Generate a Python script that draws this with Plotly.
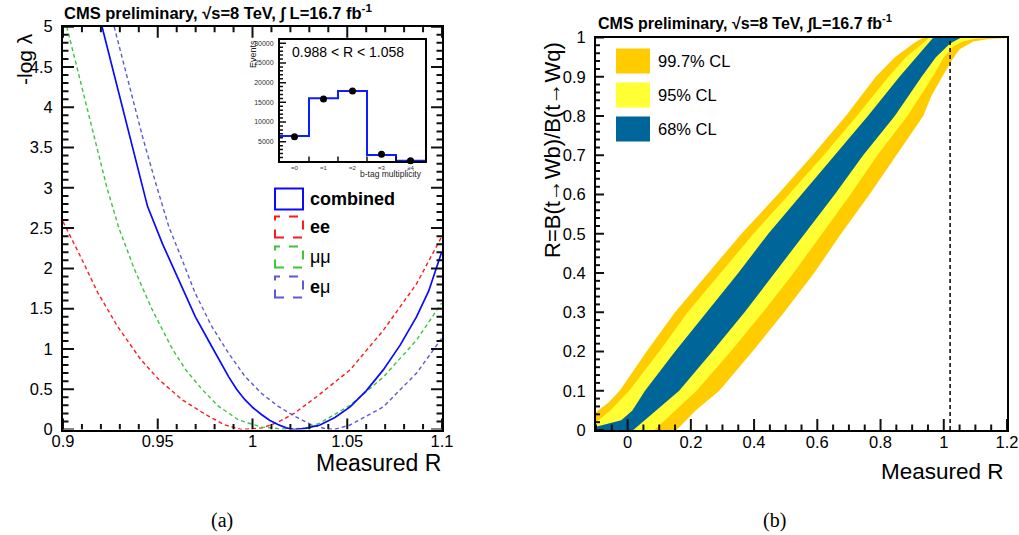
import plotly.graph_objects as go

W, H = 1019, 535

# ---------------- panel (a): -log(lambda) scans vs measured R ----------------
comb_x = [0.9206, 0.9312, 0.9418, 0.9446, 0.9524, 0.9611, 0.9698, 0.9785, 0.9873, 0.9916, 0.996,
          1.0003, 1.0047, 1.009, 1.0134, 1.0178, 1.022, 1.028, 1.0356, 1.0435, 1.0515, 1.060,
          1.069, 1.078, 1.0866, 1.093, 1.0998]
comb_y = [5.0, 4.0, 3.0, 2.77, 2.31, 1.86, 1.40, 1.03, 0.66, 0.50, 0.37,
          0.27, 0.186, 0.116, 0.062, 0.02, 0.0, 0.015, 0.056, 0.15, 0.28, 0.48,
          0.74, 1.05, 1.40, 1.72, 2.2]

ee_x = [0.9, 0.9096, 0.9183, 0.9288, 0.941, 0.9506, 0.9628, 0.975, 0.985, 0.994,
        1.005, 1.013, 1.022, 1.034, 1.0515, 1.069, 1.0866, 1.1]
ee_y = [2.58, 2.13, 1.70, 1.28, 0.87, 0.62, 0.37, 0.19, 0.06, 0.0,
        0.02, 0.085, 0.2, 0.41, 0.74, 1.23, 1.81, 2.4]

mm_x = [0.902, 0.9125, 0.9232, 0.9295, 0.9375, 0.9468, 0.9577, 0.9648, 0.9733, 0.982, 0.9925,
        1.0047, 1.0187, 1.028, 1.0356, 1.0515, 1.069, 1.0866, 1.0998]
mm_y = [5.0, 4.0, 3.0, 2.5, 2.0, 1.5, 1.0, 0.74, 0.5, 0.29, 0.12,
        0.03, 0.0, 0.02, 0.08, 0.30, 0.65, 1.11, 1.57]

em_x = [0.927, 0.9349, 0.9419, 0.9489, 0.9558, 0.9628, 0.9698, 0.9785, 0.9873, 0.996, 1.0047,
        1.0134, 1.0222, 1.0309, 1.038, 1.043, 1.0515, 1.069, 1.0866, 1.0998]
em_y = [5.0, 4.26, 3.64, 3.06, 2.52, 2.11, 1.69, 1.28, 0.95, 0.66, 0.45,
        0.29, 0.165, 0.062, 0.012, 0.0, 0.056, 0.28, 0.70, 1.13]

# inset: b-tag multiplicity
btag_labels = ["=0", "=1", "=2", "=3", "\u22654"]
btag_centers = [0, 1, 2, 3, 4]
btag_edges = [-0.5, 0.5, 1.5, 2.5, 3.5, 4.5]
btag_expected = [6450, 16030, 17880, 1630, 180]
btag_data = [6270, 15850, 17880, 1800, 180]
inset_yticks = [5000, 10000, 15000, 20000, 25000, 30000]

# ---------------- panel (b): confidence belts ----------------
# belt edges as (measured R, true R) pairs, ordered by true R
cl997_lo_x = [-0.175, -0.1, -0.06, -0.025, 0.06, 0.15, 0.255, 0.36, 0.475, 0.585, 0.69, 0.785, 0.845, 0.904, 0.935]
cl997_lo_y = [0.0, 0.045, 0.07, 0.1, 0.2, 0.3, 0.4, 0.5, 0.6, 0.7, 0.8, 0.9, 0.95, 0.985, 1.0]
cl997_hi_x = [0.155, 0.215, 0.29, 0.395, 0.495, 0.59, 0.675, 0.765, 0.85, 0.935, 0.96, 0.995, 1.03, 1.05, 1.093, 1.146, 1.2]
cl997_hi_y = [0.0, 0.05, 0.1, 0.2, 0.3, 0.4, 0.5, 0.6, 0.7, 0.8, 0.85, 0.9, 0.947, 0.97, 0.99, 0.997, 0.999]

cl95_lo_x = [-0.13, -0.1, -0.055, 0.005, 0.10, 0.19, 0.295, 0.398, 0.51, 0.62, 0.725, 0.825, 0.88, 0.946, 0.955]
cl95_lo_y = [0.0, 0.02, 0.05, 0.1, 0.2, 0.3, 0.4, 0.5, 0.6, 0.7, 0.8, 0.9, 0.95, 0.994, 1.0]
cl95_hi_x = [0.085, 0.15, 0.218, 0.326, 0.428, 0.525, 0.615, 0.705, 0.79, 0.885, 0.965, 1.0, 1.03, 1.06, 1.1, 1.2]
cl95_hi_y = [0.0, 0.05, 0.1, 0.2, 0.3, 0.4, 0.5, 0.6, 0.7, 0.8, 0.9, 0.95, 0.977, 0.99, 0.997, 1.0]

cl68_lo_x = [-0.12, -0.1, -0.02, 0.015, 0.055, 0.15, 0.25, 0.35, 0.445, 0.55, 0.655, 0.76, 0.86, 0.967]
cl68_lo_y = [0.0, 0.008, 0.025, 0.05, 0.1, 0.2, 0.3, 0.4, 0.5, 0.6, 0.7, 0.8, 0.9, 1.0]
cl68_hi_x = [0.018, 0.163, 0.268, 0.37, 0.465, 0.56, 0.655, 0.745, 0.845, 0.93, 0.975, 1.02, 1.05, 1.055]
cl68_hi_y = [0.0, 0.1, 0.2, 0.3, 0.4, 0.5, 0.6, 0.7, 0.8, 0.9, 0.95, 0.985, 0.998, 1.0]

measured_R = 1.02
true_R_span = [0.0, 1.0]

# ---------------- frame geometry (pixels) ----------------
FONT = "Liberation Sans, Arial, Helvetica, sans-serif"
SERIF = "Liberation Serif, Times New Roman, serif"

A_L, A_R, A_T, A_B = 63, 442, 26.7, 429.5        # panel (a) frame
B_L, B_R, B_T, B_B = 596, 1007, 37.5, 430         # panel (b) frame
I_L, I_R, I_T, I_B = 280, 425, 40, 161.4          # inset frame

A_XR, A_YR = [0.9, 1.1], [0, 5]
B_XR, B_YR = [-0.1, 1.2], [0, 1]
I_XR, I_YR = [-0.5, 4.5], [0, 30840]


def px(x):
    return x / W


def py(y):
    return 1 - y / H


def belt(lo_x, lo_y, hi_x, hi_y):
    return lo_x + hi_x[::-1], lo_y + hi_y[::-1]


def ticks_between(lo, hi, step):
    n = int(round((hi - lo) / step))
    return [round(lo + i * step, 6) for i in range(n + 1)]


fig = go.Figure()

# likelihood scans
curves = [
    (ee_x, ee_y, "#ff1a1a", "4px,3px", 1.4),
    (mm_x, mm_y, "#3fc43f", "4px,3px", 1.4),
    (em_x, em_y, "#5a5ad8", "4px,3px", 1.4),
    (comb_x, comb_y, "#0a0aff", "solid", 1.7),
]
for cx, cy, col, dash, lw in curves:
    fig.add_trace(go.Scatter(x=cx, y=cy, mode="lines", xaxis="x", yaxis="y",
                             line=dict(color=col, dash=dash, width=lw),
                             hoverinfo="skip", showlegend=False))

# belts, widest first
for lx, ly, hx, hy, col in [
    (cl997_lo_x, cl997_lo_y, cl997_hi_x, cl997_hi_y, "#ffcc00"),
    (cl95_lo_x, cl95_lo_y, cl95_hi_x, cl95_hi_y, "#ffff33"),
    (cl68_lo_x, cl68_lo_y, cl68_hi_x, cl68_hi_y, "#006699"),
]:
    bx, by = belt(lx, ly, hx, hy)
    fig.add_trace(go.Scatter(x=bx, y=by, mode="lines", fill="toself", fillcolor=col,
                             line=dict(width=0, color=col), xaxis="x2", yaxis="y2",
                             hoverinfo="skip", showlegend=False))

fig.add_trace(go.Scatter(x=[measured_R, measured_R], y=true_R_span, mode="lines",
                         line=dict(color="black", width=1.5, dash="4px,3px"),
                         xaxis="x2", yaxis="y2", hoverinfo="skip", showlegend=False))

# inset histogram
fig.add_trace(go.Scatter(x=btag_edges, y=btag_expected + [btag_expected[-1]], mode="lines",
                         line=dict(color="#0a1eff", width=2, shape="hv"),
                         xaxis="x3", yaxis="y3", hoverinfo="skip", showlegend=False))
fig.add_trace(go.Scatter(x=btag_centers, y=btag_data, mode="markers",
                         marker=dict(color="black", size=7),
                         xaxis="x3", yaxis="y3", hoverinfo="skip", showlegend=False, cliponaxis=False))


# ---------------- tick marks drawn inside each frame ----------------
def tick_trace(xa, ya, frame_px, xr, yr, xt, yt, width=2.0):
    """xt/yt: lists of (value, length_px, side) with side in {'bottom','top','left','right'}."""
    l, r, t, b = frame_px
    dx = (xr[1] - xr[0]) / (r - l)   # data units per pixel
    dy = (yr[1] - yr[0]) / (b - t)
    xs, ys = [], []
    for v, ln, side in xt:
        if side == "bottom":
            xs += [v, v, None]
            ys += [yr[0], yr[0] + ln * dy, None]
        else:
            xs += [v, v, None]
            ys += [yr[1], yr[1] - ln * dy, None]
    for v, ln, side in yt:
        if side == "left":
            xs += [xr[0], xr[0] + ln * dx, None]
            ys += [v, v, None]
        else:
            xs += [xr[1], xr[1] - ln * dx, None]
            ys += [v, v, None]
    return go.Scatter(x=xs, y=ys, mode="lines", xaxis=xa, yaxis=ya,
                      line=dict(color="#111111", width=width), hoverinfo="skip", showlegend=False)


a_xmaj = ticks_between(0.9, 1.1, 0.05)
a_xmin = [v for v in ticks_between(0.9, 1.1, 0.01) if v not in a_xmaj]
a_ymaj = ticks_between(0, 5, 0.5)
a_ymin = [v for v in ticks_between(0, 5, 0.1) if v not in a_ymaj]
a_xt = ([(v, 11, s) for v in a_xmaj for s in ("bottom", "top")]
        + [(v, 5.5, s) for v in a_xmin for s in ("bottom", "top")])
a_yt = ([(v, 11, s) for v in a_ymaj for s in ("left", "right")]
        + [(v, 5.5, s) for v in a_ymin for s in ("left", "right")])
fig.add_trace(tick_trace("x", "y", (A_L, A_R, A_T, A_B), A_XR, A_YR, a_xt, a_yt))

b_xmaj = ticks_between(0, 1.2, 0.2)
b_xmin = [v for v in ticks_between(-0.1, 1.2, 0.05) if v not in b_xmaj]
b_ymaj = ticks_between(0, 1, 0.1)
b_ymin = [v for v in ticks_between(0, 1, 0.02) if v not in b_ymaj]
b_xt = [(v, 11, "bottom") for v in b_xmaj] + [(v, 5.5, "bottom") for v in b_xmin]
b_yt = [(v, 8, "left") for v in b_ymaj] + [(v, 4, "left") for v in b_ymin]
fig.add_trace(tick_trace("x2", "y2", (B_L, B_R, B_T, B_B), B_XR, B_YR, b_xt, b_yt))

i_xt = [(v, 5, "bottom") for v in [0.5, 1.5, 2.5, 3.5]]
i_yt = ([(v, 6, "left") for v in inset_yticks]
        + [(v, 3, "left") for v in ticks_between(0, 30000, 1000) if v not in inset_yticks and v > 0])
fig.add_trace(tick_trace("x3", "y3", (I_L, I_R, I_T, I_B), I_XR, I_YR, i_xt, i_yt, width=1.5))

tickfont = dict(family=FONT, size=16.5, color="black")
frame = dict(showline=True, linecolor="black", linewidth=2, showgrid=False, zeroline=False,
             ticks="", ticklen=0, layer="above traces", automargin=False)

fig.update_layout(
    width=W, height=H, autosize=False,
    margin=dict(l=0, r=0, t=0, b=0, pad=0, autoexpand=False),
    paper_bgcolor="white", plot_bgcolor="white",
    showlegend=False,
    xaxis=dict(**frame, domain=[px(A_L), px(A_R)], range=A_XR, anchor="y", mirror=True,
               tickmode="linear", tick0=0.9, dtick=0.05, tickfont=tickfont, ticklabelstandoff=-4),
    yaxis=dict(**frame, domain=[py(A_B), py(A_T)], range=A_YR, anchor="x", mirror=True,
               tickmode="linear", tick0=0, dtick=0.5, tickfont=tickfont, ticklabelstandoff=5),
    xaxis2=dict(**frame, domain=[px(B_L), px(B_R)], range=B_XR, anchor="y2", mirror=True,
                tickmode="linear", tick0=0, dtick=0.2, tickfont=tickfont, ticklabelstandoff=-4),
    yaxis2=dict(**frame, domain=[py(B_B), py(B_T)], range=B_YR, anchor="x2", mirror=True,
                tickmode="linear", tick0=0, dtick=0.1, tickfont=tickfont, ticklabelstandoff=5),
    xaxis3=dict(**frame, domain=[px(I_L), px(I_R)], range=I_XR, anchor="y3", mirror=True,
                tickmode="array", tickvals=btag_centers, ticktext=btag_labels,
                tickfont=dict(family=FONT, size=6, color="#333"), ticklabelstandoff=-1),
    yaxis3=dict(**frame, domain=[py(I_B), py(I_T)], range=I_YR, anchor="x3", mirror=True,
                tickmode="array", tickvals=inset_yticks, ticktext=[str(v) for v in inset_yticks],
                tickfont=dict(family=FONT, size=7, color="#333"), ticklabelstandoff=3),
)

ann = []
shapes = []


def text(x, y, s, size, xanchor="left", yanchor="middle", angle=0, family=FONT, color="black"):
    ann.append(dict(x=px(x), y=py(y), xref="paper", yref="paper", text=s, showarrow=False,
                    xanchor=xanchor, yanchor=yanchor, textangle=angle,
                    font=dict(family=family, size=size, color=color)))


# headers
text(62, 12, "<b>CMS preliminary, \u221as=8 TeV, \u222b L=16.7 fb<sup>-1</sup></b>", 16.5)
text(596, 22, "<b>CMS preliminary, \u221as=8 TeV, \u222bL=16.7 fb<sup>-1</sup></b>", 16)

# axis titles
text(25, 59, "-log \u03bb", 21, xanchor="center", angle=-90)
text(443, 463, "Measured R", 23, xanchor="right")
text(552, 150, "R=B(t\u2192Wb)/B(t\u2192Wq)", 22, xanchor="center", angle=-90)
text(1006, 471, "Measured R", 22.5, xanchor="right")

# inset texts
text(348, 52, "0.988 &lt; R &lt; 1.058", 14, xanchor="center")
text(424, 174, "b-tag multiplicity", 8.5, xanchor="right", color="#222")
text(253, 54, "Events", 9, xanchor="center", angle=-90, color="#222")

# legend of panel (a)
leg_a = [
    (199, "<b>combined</b>", "#0a0aff", "solid"),
    (227, "<b>ee</b>", "#ff1a1a", "dash"),
    (257, "\u03bc\u03bc", "#3fc43f", "dash"),
    (287, "<b>e</b>\u03bc", "#5a5ad8", "dash"),
]
for yc, lab, col, dash in leg_a:
    shapes.append(dict(type="rect", xref="paper", yref="paper",
                       x0=px(275), x1=px(303), y0=py(yc + 10.5), y1=py(yc - 10.5),
                       line=dict(color=col, width=2, dash=dash), fillcolor="rgba(0,0,0,0)"))
    text(308, yc, lab, 18)

# legend of panel (b)
leg_b = [(61, "99.7% CL", "#ffcc00"), (95, "95% CL", "#ffff33"), (129, "68% CL", "#006699")]
for yc, lab, col in leg_b:
    shapes.append(dict(type="rect", xref="paper", yref="paper",
                       x0=px(616), x1=px(650), y0=py(yc + 12.5), y1=py(yc - 12.5),
                       line=dict(width=0), fillcolor=col))
    text(656, yc, lab, 16.5)

# sub-figure captions
text(222, 520, "(a)", 20, xanchor="center", family=SERIF)
text(774, 520, "(b)", 20, xanchor="center", family=SERIF)

fig.update_layout(annotations=ann, shapes=shapes)

fig.write_html(
    "out.html",
    config={"responsive": False, "displayModeBar": False},
    default_width="1019px",
    default_height="535px",
)
